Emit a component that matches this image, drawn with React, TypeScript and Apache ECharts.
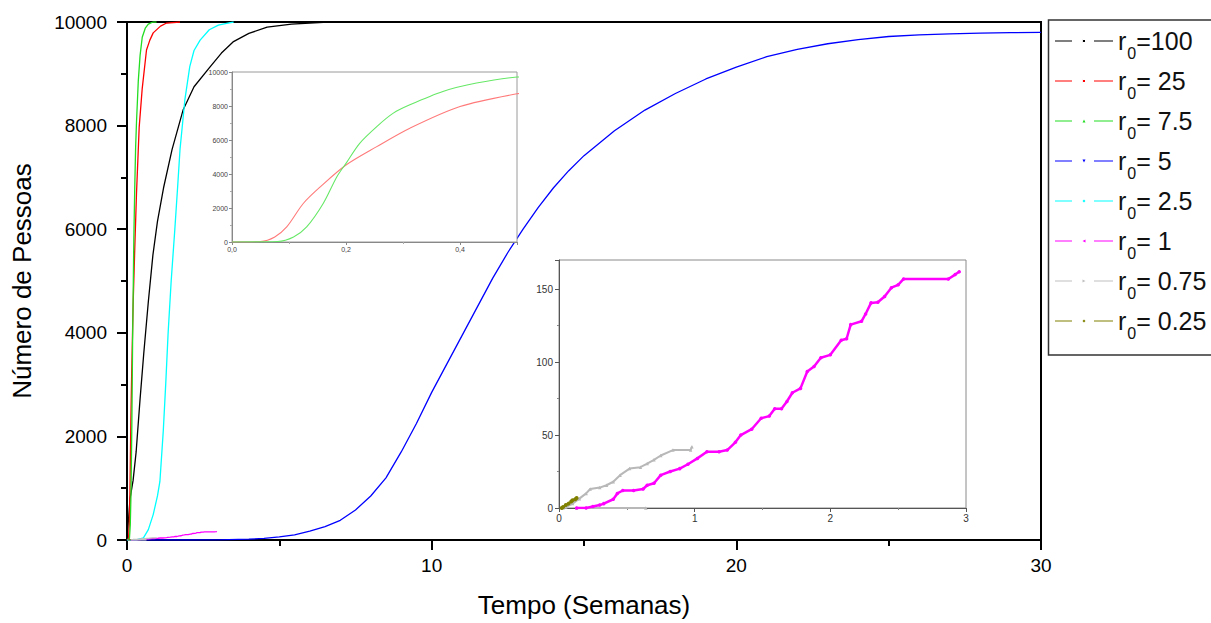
import React, { useEffect, useRef } from "react";
import * as echarts from "echarts";

// ---------- data ----------
const seriesNames = ["r0=100", "r0= 25", "r0= 7.5", "r0= 5", "r0= 2.5", "r0= 1", "r0= 0.75", "r0= 0.25"];
const seriesColors = ["#000000", "#ff0000", "#22dd22", "#0000ff", "#00ffff", "#ff00ff", "#c0c0c0", "#808000"];

const r100: [number, number][] = [
  [0, 0], [0.05, 400], [0.1, 800], [0.2, 1150], [0.3, 1700], [0.35, 2100], [0.43, 2730], [0.55, 3600],
  [0.7, 4600], [0.85, 5500], [1.0, 6150], [1.2, 6800], [1.48, 7540], [1.84, 8300], [2.2, 8750],
  [2.72, 9130], [3.1, 9400], [3.48, 9615], [4.0, 9780], [4.6, 9900], [5.4, 9960], [6.6, 10000],
];
const r25: [number, number][] = [
  [0, 0], [0.05, 30], [0.075, 300], [0.096, 886], [0.125, 2264], [0.155, 3248], [0.2, 4528],
  [0.254, 5610], [0.312, 6693], [0.4, 7970], [0.5, 8720], [0.64, 9460], [0.75, 9650], [0.86, 9790],
  [1.1, 9920], [1.3, 9980], [1.74, 10000],
];
const r7_5: [number, number][] = [
  [0, 0], [0.08, 30], [0.108, 295], [0.131, 886], [0.16, 2264], [0.184, 3839], [0.2, 4626],
  [0.224, 5807], [0.254, 6791], [0.283, 7579], [0.312, 8071], [0.37, 8858], [0.429, 9350],
  [0.5, 9705], [0.6, 9880], [0.7, 9960], [0.85, 10000], [0.97, 10000],
];
const r5: [number, number][] = [
  [0, 0], [2, 0], [3, 3], [4, 15], [4.5, 30], [5, 60], [5.5, 100], [6, 170], [6.5, 260], [7, 380],
  [7.5, 580], [8, 850], [8.5, 1200], [9, 1700], [9.5, 2250], [10, 2850], [10.5, 3400], [11, 3950],
  [11.5, 4500], [12, 5050], [12.5, 5550], [13, 6000], [13.5, 6420], [14, 6800], [14.5, 7130],
  [15, 7420], [16, 7900], [17, 8300], [18, 8620], [19, 8900], [20, 9130], [21, 9330], [22, 9470],
  [23, 9580], [24, 9660], [25, 9720], [26, 9750], [27, 9770], [28, 9785], [29, 9795], [30, 9800],
];
const r2_5: [number, number][] = [
  [0, 0], [0.3, 0], [0.54, 40], [0.7, 200], [0.86, 490], [1.0, 850], [1.08, 1130], [1.19, 2100],
  [1.27, 3000], [1.35, 4000], [1.45, 5000], [1.57, 6000], [1.66, 6800], [1.74, 7540], [1.9, 8500],
  [2.06, 9140], [2.2, 9450], [2.4, 9650], [2.7, 9850], [3.0, 9940], [3.27, 9975], [3.5, 10000],
];
const r1: [number, number][] = [
  [0.13, 0], [0.2, 0], [0.25, 1], [0.3, 2], [0.33, 3], [0.4, 6], [0.43, 10], [0.47, 12], [0.55, 12],
  [0.62, 13], [0.65, 15.6], [0.7, 17], [0.75, 22.5], [0.82, 25], [0.89, 27], [0.95, 30], [1.02, 34],
  [1.09, 38.5], [1.18, 38.5], [1.24, 39.7], [1.3, 45], [1.34, 50], [1.42, 54], [1.49, 61.5],
  [1.55, 63], [1.59, 68], [1.64, 68], [1.68, 73], [1.72, 79], [1.78, 82], [1.83, 93.6], [1.88, 97],
  [1.93, 103], [2.0, 105], [2.08, 115], [2.12, 116], [2.15, 125.7], [2.23, 128], [2.26, 133],
  [2.3, 140.6], [2.35, 141], [2.4, 145], [2.45, 151], [2.5, 153], [2.54, 157], [2.87, 157],
  [2.92, 160], [2.95, 162],
];
const r0_75: ([number, number] | null)[] = [
  [0.03, 0], [0.05, 0.7], [0.1, 3], [0.15, 6.4], [0.2, 10], [0.23, 13], [0.3, 14], [0.35, 15.6],
  [0.4, 18], [0.45, 22.5], [0.52, 27], [0.6, 28], [0.65, 30.5], [0.7, 33], [0.75, 36], [0.84, 39.7],
  [0.97, 39.7], [0.98, 42], null, [0.13, 0], [0.64, 0],
];
const r0_25: [number, number][] = [
  [0.02, 0], [0.03, 0.7], [0.05, 2], [0.07, 3], [0.09, 4.5], [0.1, 5.3], [0.12, 6], [0.13, 6.9],
];
const mainData = [r100, r25, r7_5, r5, r2_5, r1, r0_75, r0_25];

const mainXTicks = { min: 0, max: 30, interval: 10 };
const mainYTicks = { min: 0, max: 10000, interval: 2000 };
const inset1XTicks = { min: 0, max: 0.5, interval: 0.2 };
const inset1YTicks = { min: 0, max: 10000, interval: 2000 };
const inset2XTicks = { min: 0, max: 3, interval: 1 };
const inset2YTicks = { min: 0, max: 170, interval: 50 };

// legend icon paths: two dashes with a small marker in the middle
const dash = "M0,1h17v1h-17z M39,1h19v1h-19z ";
const legendIcons = [
  "path://" + dash + "M28,0.5h2v2h-2z M27.5,0h0.1v3h-0.1z",
  "path://" + dash + "M28,0.5h2v2h-2z M27.5,0h0.1v3h-0.1z",
  "path://" + dash + "M27.5,3L29,0L30.5,3z",
  "path://" + dash + "M27.5,0L29,3L30.5,0z",
  "path://" + dash + "M29,0L30.5,1.5L29,3L27.5,1.5z",
  "path://" + dash + "M27.5,1.5L30.5,0L30.5,3z",
  "path://" + dash + "M27.5,0L30.5,1.5L27.5,3z",
  "path://" + dash + "M29,0L30.5,1.5L29,3L27.5,1.5z",
];

const FONT = "'Liberation Sans', Arial, Helvetica, sans-serif";
const plain = (v: number) => String(v);

export default function App() {
  const ref = useRef<HTMLDivElement>(null);
  useEffect(() => {
    if (!ref.current) return;
    const chart = echarts.init(ref.current, undefined, { renderer: "svg" });

    const mainSeries = seriesNames.map((name, i) => ({
      name,
      type: "line",
      xAxisIndex: 0,
      yAxisIndex: 0,
      data: mainData[i],
      symbol: "none",
      showSymbol: false,
      connectNulls: false,
      lineStyle: { color: seriesColors[i], width: 1.3 },
      itemStyle: { color: seriesColors[i] },
      z: 2 + (i === 0 ? 0 : 1),
    }));

    const inset1Series = [
      { idx: 1, color: "#ff7a7a" },
      { idx: 2, color: "#66e866" },
    ].map((s) => ({
      name: seriesNames[s.idx] + " (detalhe)",
      type: "line",
      xAxisIndex: 1,
      yAxisIndex: 1,
      data: mainData[s.idx],
      symbol: "none",
      showSymbol: false,
      smooth: 0.3,
      clip: true,
      lineStyle: { color: s.color, width: 1.1 },
      z: 10,
    }));

    const inset2Series = [
      { idx: 6, color: "#b8b8b8", symbol: "triangle", size: 3.5, width: 2 },
      { idx: 7, color: "#808000", symbol: "circle", size: 4, width: 2 },
      { idx: 5, color: "#ff00ff", symbol: "circle", size: 3.5, width: 2.5 },
    ].map((s) => ({
      name: seriesNames[s.idx] + " (detalhe)",
      type: "line",
      xAxisIndex: 2,
      yAxisIndex: 2,
      data: mainData[s.idx],
      symbol: s.symbol,
      symbolSize: s.size,
      showSymbol: true,
      clip: true,
      lineStyle: { color: s.color, width: s.width },
      itemStyle: { color: s.color },
      z: 10,
    }));

    const option: any = {
      animation: false,
      backgroundColor: "#ffffff",
      textStyle: { fontFamily: FONT },
      grid: [
        { left: 127, top: 22, width: 914, height: 520, show: true, borderColor: "#000", borderWidth: 2, backgroundColor: "transparent", z: 0 },
        { left: 232, top: 72, width: 285, height: 170, show: true, borderColor: "#9a9a9a", borderWidth: 1, backgroundColor: "#ffffff", z: 5 },
        { left: 559, top: 260, width: 407, height: 248, show: true, borderColor: "#8a8a8a", borderWidth: 1, backgroundColor: "#ffffff", z: 5 },
      ],
      xAxis: [
        {
          type: "value", gridIndex: 0, ...mainXTicks,
          name: "Tempo (Semanas)", nameLocation: "middle", nameGap: 52,
          nameTextStyle: { fontSize: 26, color: "#000", fontFamily: FONT },
          axisLine: { show: true, onZero: false, lineStyle: { color: "#000", width: 2 } },
          axisTick: { show: true, inside: false, length: 10, lineStyle: { color: "#000", width: 2 } },
          minorTick: { show: true, splitNumber: 2, length: 6, lineStyle: { color: "#000", width: 2 } },
          axisLabel: { fontSize: 19, color: "#000", margin: 16, fontFamily: FONT, formatter: plain },
          splitLine: { show: false },
        },
        {
          type: "value", gridIndex: 1, ...inset1XTicks, z: 6,
          axisLine: { show: true, onZero: false, lineStyle: { color: "#888", width: 1 } },
          axisTick: { show: true, length: 3, lineStyle: { color: "#888" } },
          minorTick: { show: true, splitNumber: 2, length: 2, lineStyle: { color: "#aaa" } },
          axisLabel: {
            fontSize: 7, color: "#444", margin: 4,
            formatter: (v: number) => (Math.abs(v * 5 - Math.round(v * 5)) < 1e-6 ? v.toFixed(1).replace(".", ",") : ""),
          },
          splitLine: { show: false },
        },
        {
          type: "value", gridIndex: 2, ...inset2XTicks, z: 6,
          axisLine: { show: true, onZero: false, lineStyle: { color: "#555", width: 1 } },
          axisTick: { show: true, length: 4, lineStyle: { color: "#555" } },
          minorTick: { show: true, splitNumber: 2, length: 2, lineStyle: { color: "#888" } },
          axisLabel: { fontSize: 10, color: "#333", margin: 5, formatter: plain },
          splitLine: { show: false },
        },
      ],
      yAxis: [
        {
          type: "value", gridIndex: 0, ...mainYTicks,
          name: "Número de Pessoas", nameLocation: "middle", nameGap: 92,
          nameTextStyle: { fontSize: 26, color: "#000", fontFamily: FONT },
          axisLine: { show: true, onZero: false, lineStyle: { color: "#000", width: 2 } },
          axisTick: { show: true, inside: false, length: 10, lineStyle: { color: "#000", width: 2 } },
          minorTick: { show: true, splitNumber: 2, length: 6, lineStyle: { color: "#000", width: 2 } },
          axisLabel: { fontSize: 19, color: "#000", margin: 20, fontFamily: FONT, formatter: plain },
          splitLine: { show: false },
        },
        {
          type: "value", gridIndex: 1, ...inset1YTicks, z: 6,
          axisLine: { show: true, onZero: false, lineStyle: { color: "#888", width: 1 } },
          axisTick: { show: true, length: 3, lineStyle: { color: "#888" } },
          minorTick: { show: true, splitNumber: 2, length: 2, lineStyle: { color: "#aaa" } },
          axisLabel: { fontSize: 7, color: "#444", margin: 4, formatter: plain },
          splitLine: { show: false },
        },
        {
          type: "value", gridIndex: 2, ...inset2YTicks, z: 6,
          axisLine: { show: true, onZero: false, lineStyle: { color: "#555", width: 1 } },
          axisTick: { show: true, length: 4, lineStyle: { color: "#555" } },
          minorTick: { show: true, splitNumber: 2, length: 2, lineStyle: { color: "#888" } },
          axisLabel: {
            fontSize: 10, color: "#333", margin: 6,
            formatter: (v: number) => (v % 50 === 0 ? String(v) : ""),
          },
          splitLine: { show: false },
        },
      ],
      legend: {
        orient: "vertical",
        left: 1055,
        top: 21,
        padding: 0,
        itemGap: 0,
        itemWidth: 58,
        itemHeight: 3,
        selectedMode: false,
        data: seriesNames.map((n, i) => ({ name: n, icon: legendIcons[i] })),
        formatter: (name: string) => `{a|r}{b|0}{a|${name.slice(2)}}`,
        textStyle: {
          color: "#111",
          rich: {
            a: { fontSize: 25, lineHeight: 30, fontFamily: FONT, color: "#111" },
            b: { fontSize: 16, lineHeight: 16, fontFamily: FONT, color: "#111", padding: [24, 0, 0, 1] },
          },
        },
      },
      graphic: [
        {
          type: "rect",
          shape: { x: 1048.5, y: 20, width: 200, height: 335 },
          style: { fill: "none", stroke: "#333", lineWidth: 1.5 },
          silent: true,
          z: 1,
        },
      ],
      series: [...mainSeries, ...inset1Series, ...inset2Series],
    };

    chart.setOption(option);
    return () => chart.dispose();
  }, []);

  return (
    <div
      ref={ref}
      style={{ position: "fixed", left: 0, top: 0, width: 1211, height: 623, background: "#fff" }}
    />
  );
}
